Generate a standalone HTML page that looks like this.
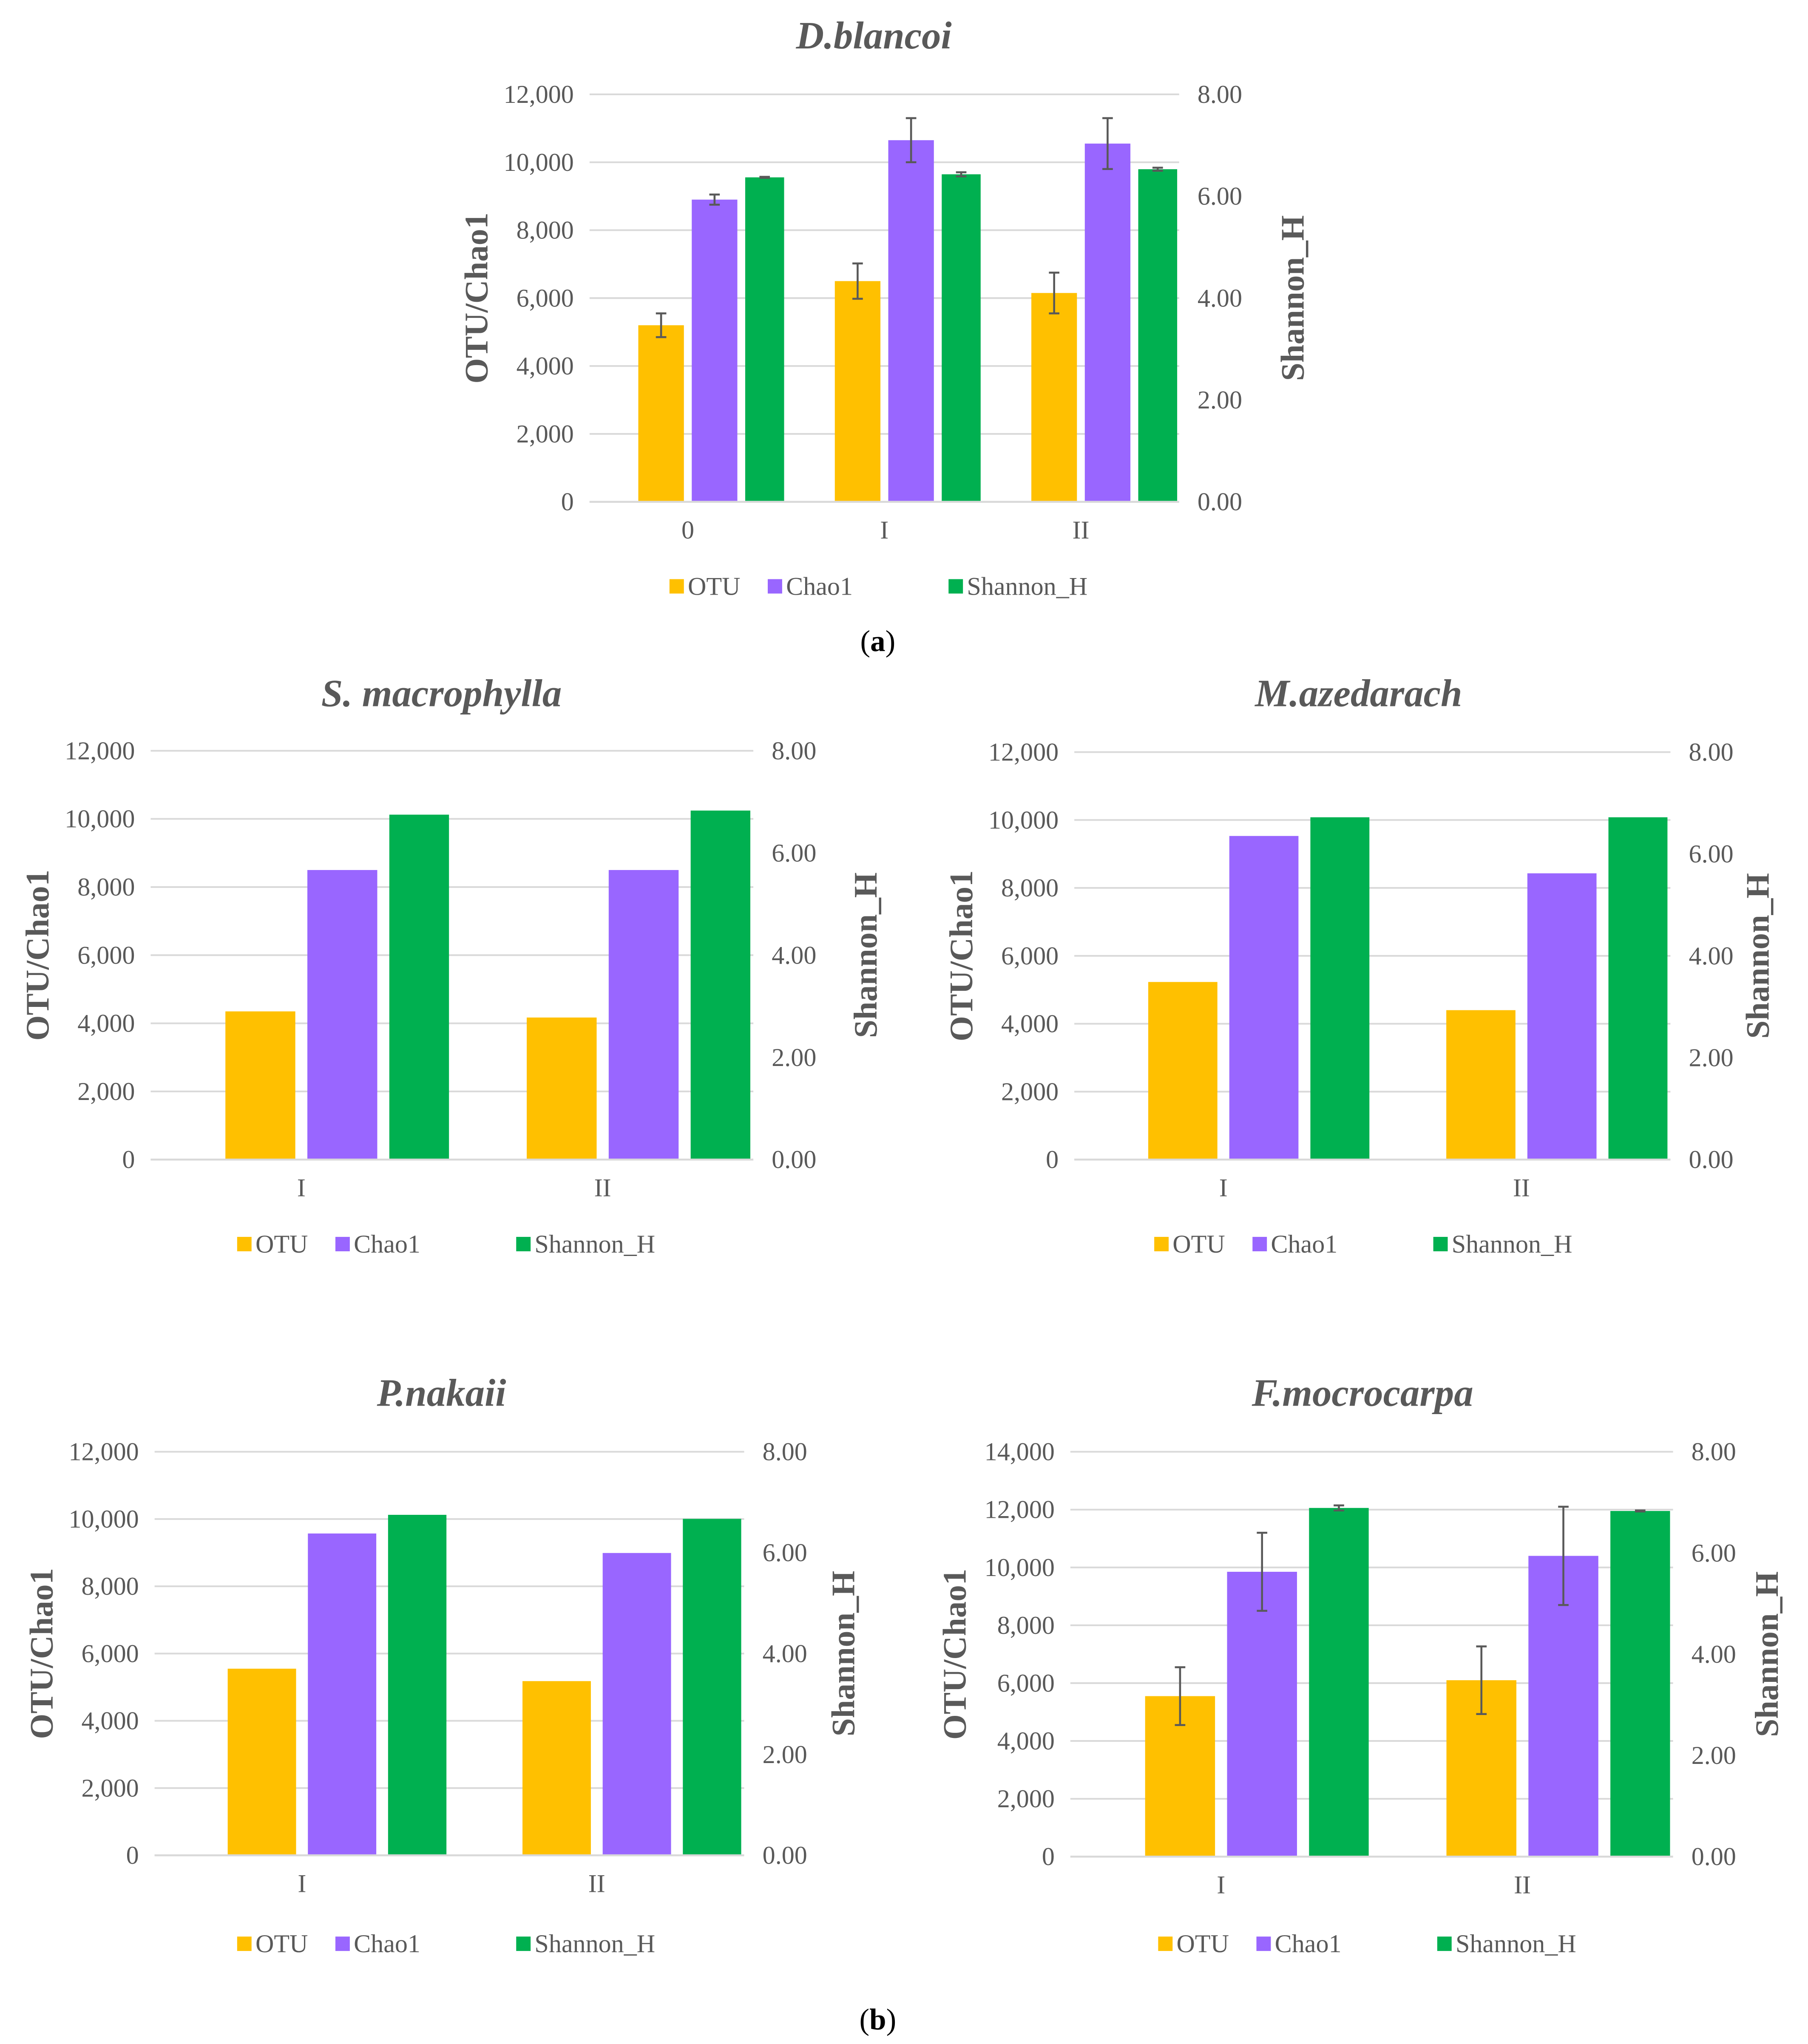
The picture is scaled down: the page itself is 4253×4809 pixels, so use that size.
<!DOCTYPE html>
<html><head><meta charset="utf-8"><style>
html,body{margin:0;padding:0;background:#fff;}
svg{display:block;font-family:"Liberation Serif",serif;}
</style></head><body>
<svg id="fig" width="4253" height="4809" viewBox="0 0 1380 1560" preserveAspectRatio="none" xmlns="http://www.w3.org/2000/svg">
<text x="670" y="497" text-anchor="middle" font-size="23" fill="#000">(<tspan font-weight="bold">a</tspan>)</text>
<text x="670" y="1549" text-anchor="middle" font-size="23" fill="#000">(<tspan font-weight="bold">b</tspan>)</text>
</svg>
<script>
// ---- data ----
const seriesNames = ["OTU", "Chao1", "Shannon_H"];
const catsA = ["0", "I", "II"];
const otuA = [5200, 6500, 6150];
const otuErrA = [350, 520, 600];
const chaoA = [8900, 10650, 10550];
const chaoErrA = [150, 650, 750];
const shanA = [6.37, 6.43, 6.53];
const shanErrA = [0.01, 0.04, 0.03];

const catsB = ["I", "II"];
const otuS = [4350, 4170];
const chaoS = [8500, 8500];
const shanS = [6.75, 6.83];

const otuM = [5230, 4400];
const chaoM = [9530, 8430];
const shanM = [6.72, 6.72];

const otuP = [5550, 5180];
const chaoP = [9570, 8990];
const shanP = [6.75, 6.67];

const otuF = [5550, 6100];
const otuErrF = [1000, 1170];
const chaoF = [9850, 10400];
const chaoErrF = [1350, 1700];
const shanF = [6.89, 6.83];
const shanErrF = [0.05, 0.01];

const leftTicks12 = [0, 2000, 4000, 6000, 8000, 10000, 12000];
const leftTicks14 = [0, 2000, 4000, 6000, 8000, 10000, 12000, 14000];
const rightTicks = [0, 2, 4, 6, 8];

const NS = "http://www.w3.org/2000/svg";
const svg = document.getElementById("fig");
const colors = ["#FFC000", "#9966FF", "#00B050"];
const barFrac = [[0.248, 0.232], [0.52, 0.232], [0.792, 0.198]];

function mk(tag, attrs, parent) {
  const e = document.createElementNS(NS, tag);
  for (const k in attrs) e.setAttribute(k, attrs[k]);
  (parent || svg).appendChild(e);
  return e;
}
function fmt(v) { return v.toLocaleString("en-US"); }

function drawChart(c) {
  const g = mk("g", {});
  
  
  const lMax = c.lTicks[c.lTicks.length - 1];
  const yL = v => c.y0 - (v / lMax) * (c.y0 - c.yTop);
  const yR = v => c.y0 - (v / 8) * (c.y0 - c.yTop);
  const gw = (c.x1 - c.x0) / c.cats.length;
  const t = mk("text", {x: c.tx, y: c.ty, "text-anchor": "middle", "font-size": 29.5, "font-weight": "bold", "font-style": "italic", fill: "#595959"}, g);
  t.textContent = c.title;
  
  
  c.lTicks.forEach(v => {
    const ln = mk("line", {x1: c.x0, x2: c.x1, y1: yL(v), y2: yL(v), stroke: "#D9D9D9", "stroke-width": 1.3}, g);
    
    
    const tt = mk("text", {x: c.x0 - 12, y: yL(v) + 6.5, "text-anchor": "end", "font-size": 19.5, fill: "#595959"}, g);
    tt.textContent = fmt(v);
    
    
  });
  rightTicks.forEach(v => {
    const tt = mk("text", {x: c.x1 + 14, y: yR(v) + 6.5, "text-anchor": "start", "font-size": 19.5, fill: "#595959"}, g);
    tt.textContent = v.toFixed(2);
    
    
  });
  const la = mk("text", {transform: `translate(${c.lax},${(c.y0 + c.yTop) / 2}) rotate(-90)`, "text-anchor": "middle", "font-size": 25, "font-weight": "bold", fill: "#595959"}, g);
  la.textContent = "OTU/Chao1";
  
  
  const ra = mk("text", {transform: `translate(${c.rax},${(c.y0 + c.yTop) / 2}) rotate(-90)`, "text-anchor": "middle", "font-size": 25, "font-weight": "bold", fill: "#595959"}, g);
  ra.textContent = "Shannon_H";
  
  
  const series = [c.otu, c.chao, c.shan];
  const errs = [c.otuErr, c.chaoErr, c.shanErr];
  c.cats.forEach((cat, i) => {
    const gs = c.x0 + i * gw;
    series.forEach((arr, s) => {
      const ys = s === 2 ? yR : yL;
      const bx = gs + barFrac[s][0] * gw, bw = barFrac[s][1] * gw;
      const top = ys(arr[i]);
      const r = mk("rect", {x: bx, y: top, width: bw, height: c.y0 - top, fill: colors[s]}, g);
      
      
      if (errs[s]) {
        const e = errs[s][i], cx = bx + bw / 2;
        const y1 = ys(arr[i] + e), y2 = ys(arr[i] - e);
        const p = mk("path", {d: `M${cx},${y1}V${y2}M${cx - 4},${y1}H${cx + 4}M${cx - 4},${y2}H${cx + 4}`, stroke: "#595959", "stroke-width": 1.5, fill: "none"}, g);
        
        
      }
    });
    const cl = mk("text", {x: gs + gw / 2, y: c.y0 + 28, "text-anchor": "middle", "font-size": 19.5, fill: "#595959"}, g);
    cl.textContent = cat;
    
    
  });
  const bl = mk("line", {x1: c.x0, x2: c.x1, y1: c.y0, y2: c.y0, stroke: "#D9D9D9", "stroke-width": 1.5}, g);
  
  
  seriesNames.forEach((n, s) => {
    const lx = c.legX[s];
    const sq = mk("rect", {x: lx, y: c.legY - 12, width: 11, height: 11, fill: colors[s]}, g);
    
    
    const lt = mk("text", {x: lx + 14, y: c.legY, "font-size": 19.5, fill: "#595959"}, g);
    lt.textContent = n;
    
    
  });
}

drawChart({id: "d-blancoi", title: "D.blancoi", tx: 667, ty: 37, x0: 450, x1: 900, yTop: 72, y0: 383, lTicks: leftTicks12,
  lax: 372, rax: 995, cats: catsA, otu: otuA, chao: chaoA, shan: shanA, otuErr: otuErrA, chaoErr: chaoErrA, shanErr: shanErrA,
  legX: [511, 586, 724], legY: 454});
drawChart({id: "s-macrophylla", title: "S. macrophylla", tx: 337, ty: 539, x0: 115, x1: 575, yTop: 573, y0: 885, lTicks: leftTicks12,
  lax: 37, rax: 669, cats: catsB, otu: otuS, chao: chaoS, shan: shanS, legX: [181, 256, 394], legY: 956});
drawChart({id: "m-azedarach", title: "M.azedarach", tx: 1037, ty: 539, x0: 820, x1: 1275, yTop: 574, y0: 885, lTicks: leftTicks12,
  lax: 742, rax: 1350, cats: catsB, otu: otuM, chao: chaoM, shan: shanM, legX: [881, 956, 1094], legY: 956});
drawChart({id: "p-nakaii", title: "P.nakaii", tx: 337, ty: 1073, x0: 118, x1: 568, yTop: 1108, y0: 1416, lTicks: leftTicks12,
  lax: 40, rax: 652, cats: catsB, otu: otuP, chao: chaoP, shan: shanP, legX: [181, 256, 394], legY: 1490});
drawChart({id: "f-mocrocarpa", title: "F.mocrocarpa", tx: 1040, ty: 1073, x0: 817, x1: 1277, yTop: 1108, y0: 1417, lTicks: leftTicks14,
  lax: 737, rax: 1357, cats: catsB, otu: otuF, chao: chaoF, shan: shanF, otuErr: otuErrF, chaoErr: chaoErrF, shanErr: shanErrF,
  legX: [884, 959, 1097], legY: 1490});
</script>
</body></html>
